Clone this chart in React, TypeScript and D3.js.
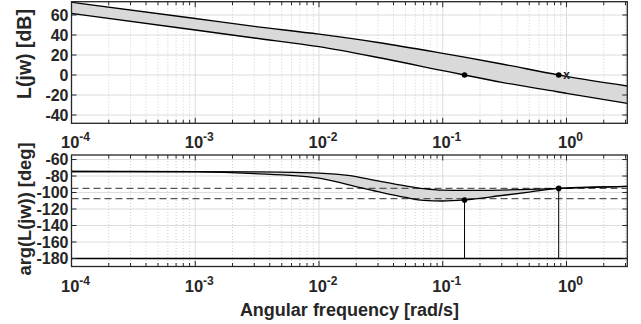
import React from "react";
import * as d3 from "d3";

// ---- data ----
const freqMag = [1e-4, 1e-3, 3e-3, 1e-2, 3e-2, 1e-1, 0.15, 0.3, 0.865, 1, 3.1];
const magUpper = [72.8, 56.5, 48.6, 40.8, 32.5, 21.7, 17.9, 11, 0, -1.4, -11];
const magLower = [61.5, 45, 37, 28.3, 17.5, 4.4, 0, -7.3, -17, -18.3, -28.3];

const freqPh = [1e-4, 1e-3, 3e-3, 1e-2, 1.78e-2, 3e-2, 5e-2, 7e-2, 0.1, 0.15, 0.3, 0.5, 0.865, 3.1];
const phUpper = [-74.5, -74.6, -75, -76.5, -79.5, -86, -92, -95.3, -97.2, -97.5, -97, -96.2, -95, -92.6];
const phLower = [-74.5, -75, -77, -82.5, -91, -99, -106, -109.5, -110.3, -109, -103.6, -99.5, -95, -92.6];

const specLines = [-95, -107.5];
const crossFreqs = [0.15, 0.865];
const crossPhases = [-109, -95];
const markX = [1];
const criticalPhase = -180;

const magTicks = [-40, -20, 0, 20, 40, 60];
const phTicks = [-180, -160, -140, -120, -100, -80, -60];
const decadeExps = [-4, -3, -2, -1, 0];

const xLabel = "Angular frequency [rad/s]";
const magLabel = "L(jw) [dB]";
const phLabel = "arg(L(jw)) [deg]";

// ---- layout ----
const W = 641;
const H = 324;
const X0 = 71.5;
const X1 = 627.3;
const T = { y0: 1.7, y1: 123.3 };
const B = { y0: 155, y1: 266.5 };
const FONT = "'Liberation Sans', Arial, Helvetica, sans-serif";
const AX = "#262626";

const x = d3.scaleLog().domain([1e-4, 3.1]).range([X0, X1]);
const yMag = d3.scaleLinear().domain([-48.3, 73.3]).range([T.y1, T.y0]);
const yPh = d3.scaleLinear().domain([-189.7, -54.5]).range([B.y1, B.y0]);

const minorTicks: number[] = [];
for (let e = -4; e <= 0; e++) {
  for (let m = 2; m <= 9; m++) {
    const v = m * Math.pow(10, e);
    if (v <= 3.1) minorTicks.push(v);
  }
}
const majorTicks = decadeExps.map((e) => Math.pow(10, e));

function Panel({ y, ticks, y0, y1 }: any) {
  return (
    <g>
      {ticks.map((t: number) => (
        <line key={"gy" + t} x1={X0} x2={X1} y1={y(t)} y2={y(t)} stroke="#dcdcdc" strokeWidth={1} />
      ))}
      {minorTicks.map((t) => (
        <line key={"gm" + t} x1={x(t)} x2={x(t)} y1={y0} y2={y1} stroke="#c4c4c4" strokeWidth={0.8} strokeDasharray="1,2" />
      ))}
      {majorTicks.map((t) => (
        <line key={"gM" + t} x1={x(t)} x2={x(t)} y1={y0} y2={y1} stroke="#dcdcdc" strokeWidth={1} />
      ))}
    </g>
  );
}

function Frame({ y, ticks, y0, y1 }: any) {
  return (
    <g>
      <rect x={X0} y={y0} width={X1 - X0} height={y1 - y0} fill="none" stroke={AX} strokeWidth={1.3} />
      {ticks.map((t: number) => (
        <g key={"t" + t}>
          <line x1={X0} x2={X0 + 5} y1={y(t)} y2={y(t)} stroke={AX} strokeWidth={1} />
          <line x1={X1} x2={X1 - 5} y1={y(t)} y2={y(t)} stroke={AX} strokeWidth={1} />
          <text x={X0 - 3} y={y(t)} dy="0.36em" textAnchor="end" fontFamily={FONT} fontWeight="bold" fontSize={16} fill={AX}>
            {t}
          </text>
        </g>
      ))}
      {majorTicks.concat(minorTicks).map((t) => {
        const len = majorTicks.includes(t) ? 5.5 : 3.5;
        return (
          <g key={"xt" + t}>
            <line x1={x(t)} x2={x(t)} y1={y1} y2={y1 - len} stroke={AX} strokeWidth={1} />
            <line x1={x(t)} x2={x(t)} y1={y0} y2={y0 + len} stroke={AX} strokeWidth={1} />
          </g>
        );
      })}
      {decadeExps.map((e) => (
        <text key={"xl" + e} x={x(Math.pow(10, e)) + 4} y={y1 + 25} textAnchor="middle" fontFamily={FONT} fontWeight="bold" fontSize={16.5} fill={AX}>
          10
          <tspan dy={-7} fontSize={12}>{e}</tspan>
        </text>
      ))}
    </g>
  );
}

export default function App() {
  const magPts = freqMag.map((f, i) => ({ f, u: magUpper[i], l: magLower[i] }));
  const phPts = freqPh.map((f, i) => ({ f, u: phUpper[i], l: phLower[i] }));
  const curve = d3.curveMonotoneX;

  const magArea = d3.area<any>().x((d) => x(d.f)).y0((d) => yMag(d.l)).y1((d) => yMag(d.u)).curve(curve);
  const magU = d3.line<any>().x((d) => x(d.f)).y((d) => yMag(d.u)).curve(curve);
  const magL = d3.line<any>().x((d) => x(d.f)).y((d) => yMag(d.l)).curve(curve);
  const phArea = d3.area<any>().x((d) => x(d.f)).y0((d) => yPh(d.l)).y1((d) => yPh(d.u)).curve(curve);
  const phU = d3.line<any>().x((d) => x(d.f)).y((d) => yPh(d.u)).curve(curve);
  const phL = d3.line<any>().x((d) => x(d.f)).y((d) => yPh(d.l)).curve(curve);

  return (
    <svg width={W} height={H} style={{ position: "absolute", left: 0, top: 0, background: "#fff" }}>
      <defs>
        <clipPath id="clipT">
          <rect x={X0} y={T.y0} width={X1 - X0} height={T.y1 - T.y0} />
        </clipPath>
        <clipPath id="clipB">
          <rect x={X0} y={B.y0} width={X1 - X0} height={B.y1 - B.y0} />
        </clipPath>
      </defs>
      <rect x={0} y={0} width={W} height={H} fill="#fff" />

      {/* magnitude panel */}
      <Panel y={yMag} ticks={magTicks} y0={T.y0} y1={T.y1} />
      <g clipPath="url(#clipT)">
        <path d={magArea(magPts) || ""} fill="#d9d9d9" />
        <path d={magU(magPts) || ""} fill="none" stroke="#000" strokeWidth={1.3} />
        <path d={magL(magPts) || ""} fill="none" stroke="#000" strokeWidth={1.3} />
        {crossFreqs.map((f) => (
          <circle key={"md" + f} cx={x(f)} cy={yMag(0)} r={2.8} fill="#000" />
        ))}
        {markX.map((f) => (
          <text key={"mx" + f} x={x(f)} y={yMag(0) + 3.5} textAnchor="middle" fontFamily={FONT} fontWeight="bold" fontSize={12} fill="#222">
            x
          </text>
        ))}
      </g>
      <Frame y={yMag} ticks={magTicks} y0={T.y0} y1={T.y1} />

      {/* phase panel */}
      <Panel y={yPh} ticks={phTicks} y0={B.y0} y1={B.y1} />
      <g clipPath="url(#clipB)">
        <path d={phArea(phPts) || ""} fill="#d9d9d9" />
        {specLines.map((p) => (
          <line key={"sp" + p} x1={X0} x2={X1} y1={yPh(p)} y2={yPh(p)} stroke="#555" strokeWidth={1.3} strokeDasharray="7,4" />
        ))}
        <line x1={X0} x2={X1} y1={yPh(criticalPhase)} y2={yPh(criticalPhase)} stroke="#000" strokeWidth={1.3} />
        <path d={phU(phPts) || ""} fill="none" stroke="#000" strokeWidth={1.3} />
        <path d={phL(phPts) || ""} fill="none" stroke="#000" strokeWidth={1.3} />
        {crossFreqs.map((f, i) => (
          <g key={"pd" + f}>
            <line x1={x(f)} x2={x(f)} y1={yPh(crossPhases[i])} y2={yPh(criticalPhase)} stroke="#000" strokeWidth={1} />
            <circle cx={x(f)} cy={yPh(crossPhases[i])} r={2.8} fill="#000" />
          </g>
        ))}
      </g>
      <Frame y={yPh} ticks={phTicks} y0={B.y0} y1={B.y1} />

      {/* axis labels */}
      <text transform={`translate(31,54) rotate(-90)`} textAnchor="middle" fontFamily={FONT} fontWeight="bold" fontSize={19.5} fill={AX}>
        {magLabel}
      </text>
      <text transform={`translate(31,209) rotate(-90)`} textAnchor="middle" fontFamily={FONT} fontWeight="bold" fontSize={18.3} fill={AX}>
        {phLabel}
      </text>
      <text x={(X0 + X1) / 2} y={316} textAnchor="middle" fontFamily={FONT} fontWeight="bold" fontSize={18} fill={AX}>
        {xLabel}
      </text>
    </svg>
  );
}
